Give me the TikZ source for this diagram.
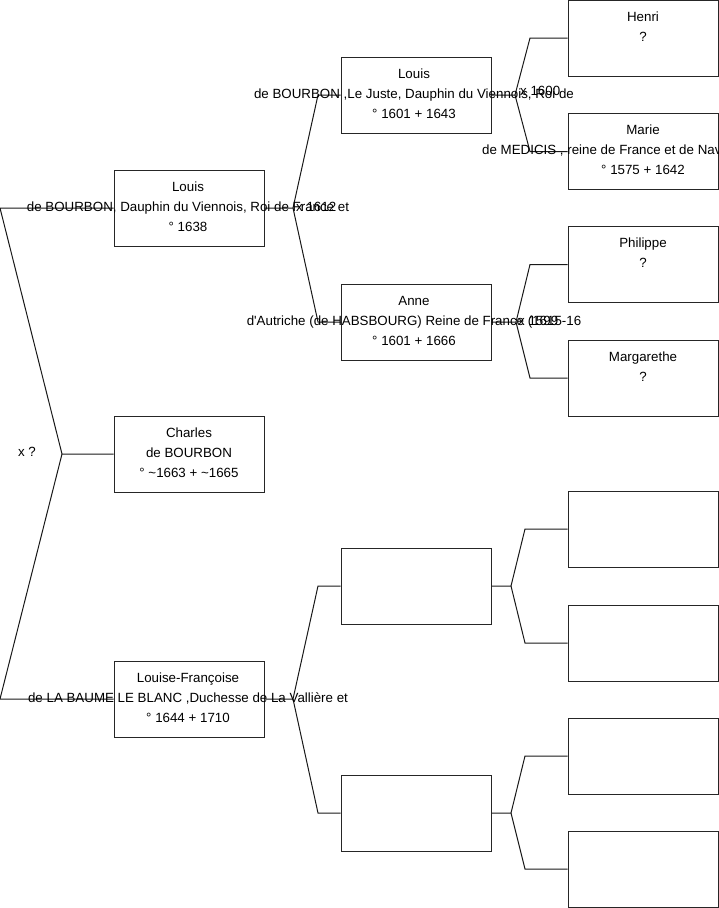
\documentclass[tikz,border=0pt]{standalone}
\usepackage{fontspec}
\setmainfont{Liberation Sans}
\newcommand{\threelines}[3]{\strut #1\\\strut #2\\\strut #3}
\begin{document}
\begin{tikzpicture}[x=1pt,y=-1pt,
  box/.style={draw=black!85, line width=1pt, minimum width=150pt, minimum height=76pt, inner sep=0pt},
  wire/.style={draw=black!90, line width=1pt},
  txt/.style={font=\fontsize{13.33}{20}\selectfont, align=center, inner sep=0pt},
  lbl/.style={font=\fontsize{13.33}{20}\selectfont, inner sep=0pt}]
\useasboundingbox (0,0) rectangle (719,908);
\clip (0,0) rectangle (719,908);
% column 1
\node[box] (lxiv) at (189,208) {};
\node[box] (charles) at (189,454) {};
\node[box] (louise) at (189,699) {};
% column 2
\node[box] (lxiii) at (416,95) {};
\node[box] (anne) at (416,322) {};
\node[box] (e1) at (416,586) {};
\node[box] (e2) at (416,813) {};
% column 3
\node[box] (henri) at (643,38) {};
\node[box] (marie) at (643,151.5) {};
\node[box] (philippe) at (643,264.5) {};
\node[box] (marg) at (643,378) {};
\node[box] (e3) at (643,529) {};
\node[box] (e4) at (643,643) {};
\node[box] (e5) at (643,756) {};
\node[box] (e6) at (643,869) {};
% fork points
\coordinate (f0) at (62,454);
\coordinate (f0a) at (0,208);
\coordinate (f0b) at (0,699);
\coordinate (f1) at (293,208);
\coordinate (f1a) at (318,95);
\coordinate (f1b) at (318,322);
\coordinate (f2) at (293,699);
\coordinate (f2a) at (318,586);
\coordinate (f2b) at (318,813);
\coordinate (f3) at (515,95);
\coordinate (f3a) at (530,38);
\coordinate (f3b) at (530,151.5);
\coordinate (f4) at (516,322);
\coordinate (f4a) at (530,264.5);
\coordinate (f4b) at (530,378);
\coordinate (f5) at (511,586);
\coordinate (f5a) at (525,529);
\coordinate (f5b) at (525,643);
\coordinate (f6) at (511,813);
\coordinate (f6a) at (525,756);
\coordinate (f6b) at (525,869);
% connectors
\draw[wire] (charles.west) -- (f0) -- (f0a) -- (lxiv.west);
\draw[wire] (f0) -- (f0b) -- (louise.west);
\draw[wire] (lxiv.east) -- (f1) -- (f1a) -- (lxiii.west);
\draw[wire] (f1) -- (f1b) -- (anne.west);
\draw[wire] (louise.east) -- (f2) -- (f2a) -- (e1.west);
\draw[wire] (f2) -- (f2b) -- (e2.west);
\draw[wire] (lxiii.east) -- (f3) -- (f3a) -- (henri.west);
\draw[wire] (f3) -- (f3b) -- (marie.west);
\draw[wire] (anne.east) -- (f4) -- (f4a) -- (philippe.west);
\draw[wire] (f4) -- (f4b) -- (marg.west);
\draw[wire] (e1.east) -- (f5) -- (f5a) -- (e3.west);
\draw[wire] (f5) -- (f5b) -- (e4.west);
\draw[wire] (e2.east) -- (f6) -- (f6a) -- (e5.west);
\draw[wire] (f6) -- (f6b) -- (e6.west);
% texts
\node[txt] (t-lxiv) at (188,207) {\threelines{Louis}{de BOURBON, Dauphin du Viennois, Roi de France et}{° 1638}};
\node[txt] (t-charles) at (189,453) {\threelines{Charles}{de BOURBON}{° \textasciitilde1663 + \textasciitilde1665}};
\node[txt] (t-louise) at (188,698) {\threelines{Louise-Françoise}{de LA BAUME LE BLANC ,Duchesse de La Vallière et}{° 1644 + 1710}};
\node[txt] (t-lxiii) at (414,94) {\threelines{Louis}{de BOURBON ,Le Juste, Dauphin du Viennois, Roi de}{° 1601 + 1643}};
\node[txt] (t-anne) at (414,321) {\threelines{Anne}{d\textquotesingle Autriche (de HABSBOURG) Reine de France (1615-16}{° 1601 + 1666}};
\node[txt] (t-henri) at (643,37) {\threelines{Henri}{?}{}};
\node[txt] (t-marie) at (643,150.5) {\threelines{Marie}{}{° 1575 + 1642}};
\node[lbl, anchor=west] (t-marie2) at (482,150.5) {de MEDICIS , reine de France et de Navarre};
\node[txt] (t-philippe) at (643,263.5) {\threelines{Philippe}{?}{}};
\node[txt] (t-marg) at (643,377) {\threelines{Margarethe}{?}{}};
% marriage labels
\node[lbl] (m0) at (27,452) {x ?};
\node[lbl, anchor=west] (m1) at (296,207) {x 1612};
\node[lbl, anchor=west] (m3) at (520,91) {x 1600};
\node[lbl, anchor=west] (m4) at (518,321) {x 1599};
\end{tikzpicture}
\end{document}
